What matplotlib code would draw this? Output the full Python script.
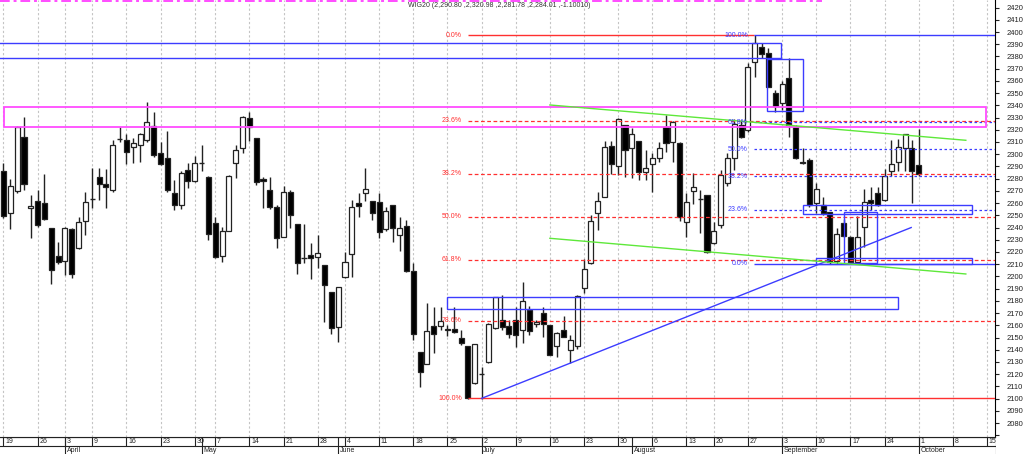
import numpy as np
import pandas as pd
import matplotlib
matplotlib.use("Agg")
import matplotlib.pyplot as plt
from matplotlib.patches import Rectangle

plt.rcParams['font.family'] = ['Liberation Sans', 'DejaVu Sans']

# trading calendar (GPW, 2018)
HOLIDAYS = ["2018-03-30", "2018-04-02", "2018-05-01", "2018-05-03", "2018-05-31", "2018-08-15"]
days = pd.bdate_range("2018-03-19", "2018-10-15")
days = days[~days.isin(pd.to_datetime(HOLIDAYS))]

TITLE = "WIG20 (2,290.80 ,2,320.98 ,2,281.78 ,2,284.01 ,-1.10010)"

opens = [
    2286.2, 2251.5, 2270.0, 2314.2, 2255.6, 2261.6, 2259.7, 2239.7, 2216.8, 2212.4,
    2239.2, 2223.6, 2245.2, 2263.6, 2281.2, 2275.5, 2270.6, 2312.2, 2311.5, 2305.6,
    2307.4, 2311.5, 2323.3, 2300.6, 2296.5, 2267.9, 2258.4, 2287.0, 2278.3, 2293.0,
    2281.6, 2243.9, 2216.9, 2237.4, 2292.7, 2304.8, 2329.3, 2312.9, 2279.7, 2270.6,
    2257.0, 2232.5, 2269.3, 2242.8, 2214.7, 2217.5, 2216.1, 2209.3, 2187.4, 2158.8,
    2199.2, 2218.0, 2260.3, 2268.5, 2261.7, 2261.2, 2238.5, 2258.4, 2233.9, 2241.2,
    2204.4, 2138.4, 2128.3, 2159.7, 2159.7, 2155.8, 2157.2, 2149.8, 2143.0, 2112.5,
    2120.5, 2130.0, 2157.5, 2164.6, 2159.5, 2164.2, 2155.8, 2172.5, 2161.3, 2170.1,
    2160.0, 2143.1, 2156.5, 2139.8, 2142.8, 2190.3, 2210.7, 2252.2, 2265.2, 2306.8,
    2290.3, 2323.8, 2304.8, 2310.5, 2285.7, 2291.7, 2296.6, 2322.2, 2309.9, 2309.5,
    2244.2, 2269.9, 2263.3, 2266.6, 2227.0, 2242.1, 2276.1, 2296.6, 2323.9, 2319.8,
    2375.7, 2387.5, 2382.5, 2350.4, 2341.6, 2362.1, 2322.5, 2293.9, 2295.2, 2259.8,
    2258.4, 2252.9, 2212.5, 2244.0, 2232.0, 2212.1, 2240.1, 2262.5, 2268.0, 2262.5,
    2286.5, 2293.3, 2305.3, 2305.3, 2290.8,
]
highs = [
    2292.5, 2280.0, 2323.0, 2330.2, 2266.5, 2270.8, 2284.2, 2240.0, 2228.3, 2240.5,
    2239.5, 2248.8, 2268.7, 2288.9, 2288.9, 2288.3, 2311.5, 2322.5, 2316.2, 2313.0,
    2317.0, 2343.0, 2334.8, 2310.2, 2318.9, 2278.8, 2286.0, 2292.5, 2298.5, 2307.5,
    2282.0, 2248.8, 2240.6, 2283.0, 2307.5, 2331.5, 2334.2, 2313.0, 2281.6, 2281.6,
    2258.4, 2274.2, 2270.6, 2243.0, 2242.8, 2227.0, 2233.8, 2209.5, 2187.5, 2191.5,
    2220.0, 2262.5, 2268.0, 2288.4, 2262.0, 2268.0, 2257.0, 2258.5, 2248.9, 2246.2,
    2210.7, 2138.5, 2178.0, 2175.2, 2175.2, 2160.0, 2175.2, 2156.1, 2143.0, 2144.8,
    2126.2, 2161.6, 2183.5, 2184.8, 2164.4, 2175.0, 2195.7, 2175.8, 2164.5, 2175.3,
    2160.2, 2154.2, 2167.6, 2152.1, 2184.5, 2214.3, 2250.2, 2269.3, 2311.1, 2311.1,
    2329.3, 2324.0, 2321.2, 2311.0, 2303.4, 2300.7, 2310.3, 2332.1, 2326.8, 2309.6,
    2268.5, 2285.0, 2270.7, 2267.0, 2244.8, 2287.1, 2300.7, 2328.5, 2328.0, 2374.4,
    2397.5, 2391.0, 2386.6, 2352.5, 2360.0, 2378.5, 2324.0, 2304.8, 2296.5, 2276.1,
    2265.2, 2253.0, 2240.0, 2247.0, 2233.0, 2249.4, 2271.2, 2272.9, 2272.9, 2287.6,
    2311.6, 2312.2, 2316.5, 2311.6, 2320.98,
]
lows = [
    2248.0, 2239.0, 2268.0, 2271.0, 2231.6, 2240.6, 2246.0, 2194.2, 2210.5, 2201.0,
    2198.8, 2222.5, 2233.7, 2255.6, 2262.4, 2256.1, 2269.2, 2310.2, 2292.4, 2293.0,
    2293.8, 2310.2, 2298.0, 2291.0, 2269.2, 2254.2, 2255.0, 2272.5, 2276.9, 2286.2,
    2229.5, 2215.0, 2212.0, 2237.0, 2280.8, 2300.7, 2311.0, 2274.8, 2256.2, 2255.1,
    2223.5, 2232.0, 2239.3, 2201.9, 2210.6, 2197.8, 2206.5, 2162.9, 2153.0, 2146.6,
    2199.0, 2199.8, 2248.3, 2262.0, 2246.0, 2231.1, 2237.0, 2228.4, 2221.0, 2204.0,
    2148.0, 2109.7, 2128.0, 2137.0, 2156.1, 2151.2, 2153.4, 2143.8, 2100.0, 2112.0,
    2100.0, 2129.5, 2157.0, 2156.2, 2149.4, 2142.5, 2145.8, 2152.0, 2159.0, 2150.2,
    2135.7, 2133.8, 2150.5, 2129.4, 2141.0, 2186.2, 2210.5, 2238.0, 2265.0, 2284.0,
    2283.0, 2281.0, 2280.2, 2278.9, 2278.9, 2269.3, 2293.9, 2302.1, 2293.9, 2245.0,
    2232.5, 2259.0, 2235.2, 2219.0, 2226.5, 2240.0, 2274.0, 2287.1, 2313.0, 2318.0,
    2363.4, 2378.5, 2354.8, 2334.8, 2336.2, 2314.3, 2296.0, 2292.0, 2257.0, 2251.6,
    2250.0, 2210.0, 2210.0, 2232.0, 2210.5, 2210.7, 2224.0, 2254.3, 2258.0, 2262.0,
    2282.2, 2286.5, 2286.5, 2259.8, 2281.78,
]
closes = [
    2249.5, 2273.6, 2322.2, 2275.4, 2257.8, 2241.8, 2246.8, 2205.1, 2211.4, 2240.0,
    2202.3, 2244.7, 2260.5, 2263.0, 2275.5, 2273.3, 2307.4, 2312.6, 2302.0, 2308.8,
    2316.2, 2326.0, 2299.2, 2292.4, 2270.6, 2258.3, 2284.3, 2278.0, 2293.0, 2293.3,
    2234.4, 2215.5, 2237.4, 2282.4, 2303.7, 2330.7, 2322.5, 2277.5, 2277.8, 2257.0,
    2231.1, 2269.3, 2250.2, 2210.6, 2213.9, 2214.7, 2218.8, 2192.9, 2157.9, 2191.0,
    2211.5, 2257.1, 2257.9, 2271.5, 2251.6, 2236.1, 2253.5, 2239.9, 2239.3, 2204.4,
    2152.6, 2122.0, 2155.6, 2152.6, 2163.8, 2157.0, 2154.8, 2145.2, 2100.2, 2144.6,
    2121.0, 2161.3, 2183.4, 2158.4, 2153.0, 2152.3, 2179.6, 2155.6, 2162.8, 2161.0,
    2135.9, 2154.0, 2150.8, 2148.0, 2184.0, 2205.8, 2245.3, 2261.5, 2306.2, 2291.7,
    2328.8, 2303.4, 2316.3, 2285.7, 2288.4, 2296.6, 2304.8, 2308.9, 2326.6, 2248.9,
    2261.3, 2273.4, 2263.0, 2220.2, 2237.1, 2283.0, 2296.6, 2324.4, 2313.8, 2371.1,
    2391.3, 2382.0, 2355.3, 2339.4, 2357.4, 2323.9, 2296.6, 2292.5, 2258.4, 2271.2,
    2251.6, 2211.5, 2234.7, 2233.0, 2212.1, 2232.0, 2260.6, 2259.8, 2258.4, 2282.2,
    2292.0, 2305.6, 2316.5, 2286.5, 2284.01,
]

# fibonacci retracements: (swing high, swing low), levels in %
red_fib = (2397.5, 2100.2)
red_levels = [0.0, 23.6, 38.2, 50.0, 61.8, 78.6, 100.0]
blue_fib = (2397.5, 2210.5)
blue_levels = [100.0, 61.8, 50.0, 38.2, 23.6, 0.0]

# drawn rectangles: (x0, x1, y0, y1)
blue_boxes = [
    (-5.0, 113.9, 2379.0, 2390.7),
    (111.8, 117.0, 2335.4, 2377.6),
    (117.0, 141.8, 2251.0, 2258.8),
    (123.0, 127.85, 2210.7, 2253.0),
    (118.9, 141.8, 2210.2, 2214.8),
    (65.0, 130.9, 2173.1, 2183.5),
]
magenta_box = (0.07, 143.85, 2322.5, 2339.0)

# trend lines: ((x0, y0), (x1, y1))
blue_trend = ((70.0, 2100.2), (132.9, 2240.0))
green_upper = ((80.0, 2340.3), (140.9, 2311.4))
green_lower = ((80.0, 2231.2), (140.9, 2202.0))

RED = "#ff3030"
BLUE = "#3c3cff"
MAGENTA = "#ff4cff"
GREEN = "#5ee83a"

W, H = 1024, 454
fig = plt.figure(figsize=(W / 100, H / 100), dpi=100)
ax = fig.add_axes([0, 17.5 / H, 995 / W, 436.5 / H])
XLIM = (-0.51, 145.17)
ax.set_xlim(*XLIM)
ax.set_ylim(2069, 2426.2)

n_days = len(days)
wk = days.isocalendar().week.to_numpy()
week_starts = [i for i in range(n_days) if i == 0 or wk[i] != wk[i - 1]]
month_starts = [i for i in range(1, n_days) if days[i].month != days[i - 1].month]

# vertical week grid
for t in week_starts:
    ax.axvline(t, color="#c4c4c4", lw=0.8, ls=(0, (2, 2)), zorder=1)

# candles
bw = 0.74
for i, (o, h, l, c) in enumerate(zip(opens, highs, lows, closes)):
    ax.vlines(i, l, h, color="#222222", lw=1.0, zorder=3)
    lo, hi = min(o, c), max(o, c)
    if hi - lo < 0.9:
        ax.hlines(o, i - bw / 2, i + bw / 2, color="#222222", lw=1.0, zorder=4)
    else:
        fc = "black" if c < o else "white"
        ax.add_patch(Rectangle((i - bw / 2, lo), bw, hi - lo, facecolor=fc,
                               edgecolor="#222222", lw=0.9, zorder=4))

# red fibonacci (from the June low)
rh, rl = red_fib
for lv in red_levels:
    p = rh - lv / 100 * (rh - rl)
    if lv == 0.0:
        ax.hlines(p, 68.0, 109.9, color=RED, lw=1.0, zorder=5)
    elif lv == 100.0:
        ax.hlines(p, 68.0, XLIM[1], color=RED, lw=1.0, zorder=5)
    else:
        ax.hlines(p, 68.0, XLIM[1], color=RED, lw=0.9, ls=(0, (3, 2)), zorder=5)
    ax.text(67.1, p, f"{lv:.1f}%", color=RED, fontsize=5, ha="right", va="center", zorder=6)

# blue fibonacci (from the August high)
bh, bl = blue_fib
for lv in blue_levels:
    p = bl + lv / 100 * (bh - bl)
    if lv in (0.0, 100.0):
        ax.hlines(p, 109.9, XLIM[1], color=BLUE, lw=1.0, zorder=5)
    else:
        ax.hlines(p, 109.9, XLIM[1], color=BLUE, lw=0.9, ls=(0, (2, 2)), zorder=5)
    ax.text(109.0, p, f"{lv:.1f}%", color=BLUE, fontsize=5, ha="right", va="center", zorder=6)

for x0, x1, y0, y1 in blue_boxes:
    ax.add_patch(Rectangle((x0, y0), x1 - x0, y1 - y0, fill=False, edgecolor=BLUE, lw=1.0, zorder=5))
x0, x1, y0, y1 = magenta_box
ax.add_patch(Rectangle((x0, y0), x1 - x0, y1 - y0, fill=False, edgecolor=MAGENTA, lw=1.3, zorder=5))

for (xa, ya), (xb, yb), col in [(blue_trend[0], blue_trend[1], BLUE),
                                  (green_upper[0], green_upper[1], GREEN),
                                  (green_lower[0], green_lower[1], GREEN)]:
    ax.plot([xa, xb], [ya, yb], color=col, lw=1.0, zorder=5)

# magenta dash-dot line on the top edge
ax.hlines(2425.2, XLIM[0], 119.8, color=MAGENTA, lw=1.4, ls=(0, (5, 2, 1.5, 2)), zorder=6)

# right price axis
ax.set_xticks([])
ax.set_yticks(np.arange(2070, 2421, 10))
ax.set_yticklabels(["" if v == 2070 else str(v) for v in np.arange(2070, 2421, 10)])
ax.yaxis.tick_right()
ax.tick_params(axis="y", direction="out", length=3, width=0.8, labelsize=5.5, pad=5, colors="#222222")
for s in ["left", "top"]:
    ax.spines[s].set_visible(False)
ax.spines["right"].set_linewidth(0.8)
ax.spines["bottom"].set_linewidth(0.8)

fig.text(499 / W, 1 - 5.5 / H, TITLE, fontsize=5, color="#333333", ha="center", va="center")

# date band below the chart
bx = fig.add_axes([0, 0, 996 / W, 17.5 / H])
bx.set_xlim(XLIM[0], XLIM[1] + 0.15)
bx.set_ylim(0, 17.5)
bx.axis("off")
bx.axhline(8.3, color="#222222", lw=0.8)
bx.axhline(17.4, color="#222222", lw=0.8)
bx.axvline(XLIM[1] + 0.1, color="#222222", lw=0.8)
for t in week_starts:
    bx.vlines(t, 8.3, 17.5, color="#222222", lw=0.8)
    bx.text(t + 0.25, 12.8, str(days[t].day), fontsize=5, ha="left", va="center", color="#222222")
for m in month_starts:
    bx.vlines(m, 0, 17.5, color="#222222", lw=0.8)
    bx.text(m + 0.25, 4.0, days[m].strftime("%B"), fontsize=5, ha="left", va="center", color="#222222")

fig.savefig("out.png", dpi=100)
